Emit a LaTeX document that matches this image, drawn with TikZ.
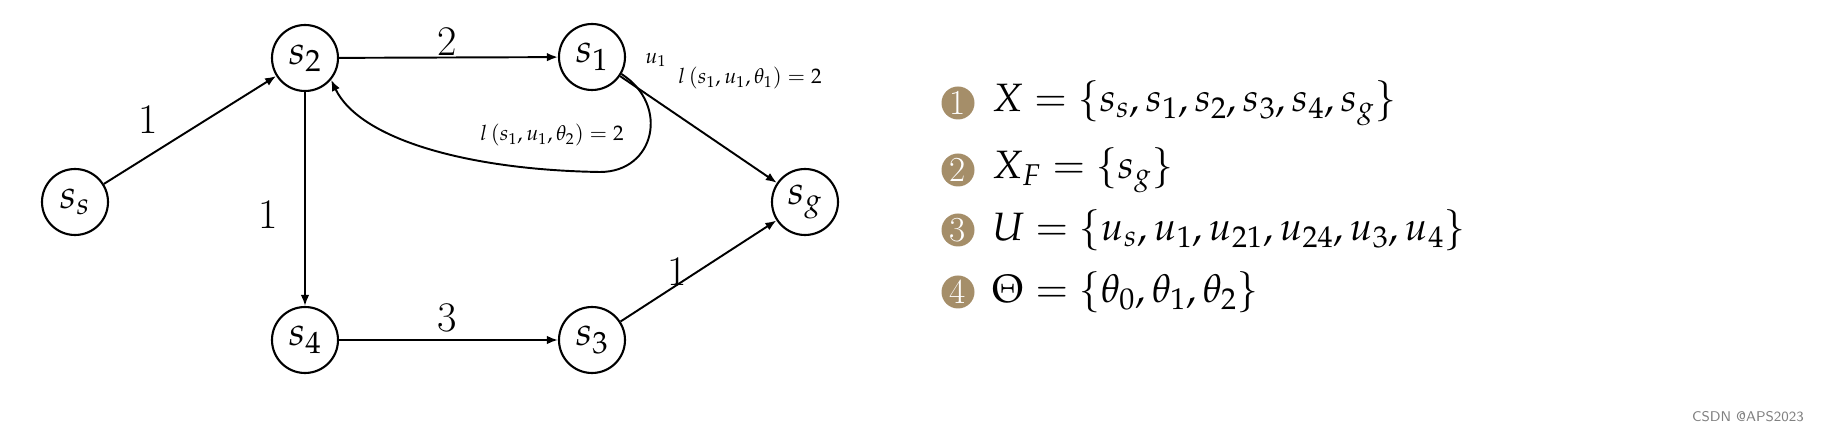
\documentclass[tikz,border=0pt]{standalone}
\usepackage{mathpazo}
\usetikzlibrary{arrows.meta}
\definecolor{bulletbrown}{HTML}{A58E69}
\tikzset{
  state/.style={draw,circle,line width=1.2pt,minimum size=1.32cm,inner sep=0pt,font=\fontsize{23}{27}\selectfont},
  edge/.style={line width=1.1pt,->},
  elabel/.style={font=\fontsize{24}{28}\selectfont},
  slabel/.style={font=\fontsize{12}{14}\selectfont},
  bul/.style={circle,fill=bulletbrown,text=white,minimum size=0.66cm,inner sep=0pt,font=\fontsize{20}{22}\selectfont},
  item/.style={anchor=west,font=\fontsize{22.5}{27}\selectfont},
  >={Latex[length=2.2mm,width=1.7mm]}
}
\begin{document}
\begin{tikzpicture}
\useasboundingbox (0,0) rectangle (36.5,8.72);
% states
\node[state] (ss) at (1.5,4.68) {$s_s$};
\node[state] (s2) at (6.1,7.56) {$s_2$};
\node[state] (s1) at (11.84,7.58) {$s_1$};
\node[state] (sg) at (16.1,4.68) {$s_g$};
\node[state] (s4) at (6.1,1.92) {$s_4$};
\node[state] (s3) at (11.84,1.92) {$s_3$};

\draw[edge] (ss) -- (s2);
\draw[edge] (s2) -- (s1);
\draw[edge] (s2) -- (s4);
\draw[edge] (s4) -- (s3);
\draw[edge] (s3) -- (sg);
\draw[edge] (s1) -- (sg);
% loop back to s2
\coordinate (loopbot) at (12.0,5.28);
\draw[line width=1.1pt] (s1.-30) .. controls (13.4,6.62) and (13.1,5.28) .. (loopbot);
\draw[edge] (loopbot) .. controls (9.4,5.32) and (7.2,5.92) .. (s2.-40);

\node[elabel] (c1) at (2.96,6.32) {1};
\node[elabel] (c2) at (8.94,7.88) {2};
\node[elabel] (c3) at (5.36,4.42) {1};
\node[elabel] (c4) at (8.94,2.36) {3};
\node[elabel] (c5) at (13.54,3.28) {1};
\node[slabel] (u1) at (13.12,7.52) {$u_1$};
\node[slabel] (l1) at (15.0,7.16) {$l\,(s_1,u_1,\theta_1)=2$};
\node[slabel] (l2) at (11.04,6.02) {$l\,(s_1,u_1,\theta_2)=2$};

% sets
\foreach \i/\y/\t in {1/6.66/{X=\{s_s,s_1,s_2,s_3,s_4,s_g\}},2/5.32/{X_F=\{s_g\}},3/4.12/{U=\{u_s,u_1,u_{21},u_{24},u_3,u_4\}},4/2.88/{\Theta=\{\theta_0,\theta_1,\theta_2\}}}{
  \node[bul] (b\i) at (19.16,\y) {\i};
  \node[item] (t\i) at (19.72,\y) {$\t$};
}
\node[anchor=east,text=gray,font=\sffamily\fontsize{8}{9}\selectfont] (wm) at (36.2,0.38) {CSDN @APS2023};
\end{tikzpicture}
\end{document}
